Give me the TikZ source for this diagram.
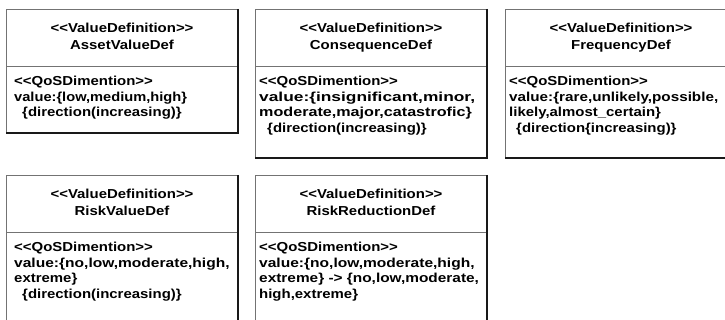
\documentclass[tikz,border=0pt]{standalone}
\usepackage{fontspec}
\usepackage{graphicx}
\newfontfamily\umlsans[FakeStretch=1.15]{Liberation Sans}
\usetikzlibrary{positioning}

% one UML class: a stereotype/name compartment over a value compartment
\newcommand\classbox[4]{% #1 name, #2 left x, #3 top y, #4 body height
  \node[compartment, minimum height=57pt, anchor=north west] (#1-head) at (#2,#3) {};
  \node[compartment, minimum height=#4, anchor=north] (#1-body) at (#1-head.south) {};
  \draw[edgeline] (#1-head.north east) -- (#1-body.south east) -- (#1-body.south west);
}
\newcommand\classtitle[2]{% #1 name, #2 class name
  \node[titletext] (#1-stereo) at ([yshift=-24pt]#1-head.north) {<<ValueDefinition>>};
  \node[titletext] (#1-name) at ([yshift=-41pt]#1-head.north) {#2};
}
\newcommand\bodyline[4]{% #1 name, #2 line number, #3 x offset, #4 text
  \pgfmathsetmacro\lineshift{-20-15.5*(#2-1)}
  \node[bodytext] (#1-l#2) at ([xshift=#3, yshift=\lineshift pt]#1-body.north west) {#4};
}
% widen a line of text horizontally
\newcommand\widen[2]{\scalebox{#1}[1]{#2}}

\begin{document}
\begin{tikzpicture}[x=1pt, y=-1pt,
  compartment/.style={draw=black!55, line width=0.8pt, minimum width=232pt,
    inner sep=0pt, outer sep=0pt},
  edgeline/.style={draw=black!90, line width=1.2pt},
  umlfont/.style={font=\umlsans\bfseries\fontsize{13}{15}\selectfont},
  titletext/.style={umlfont, anchor=base, inner sep=0pt},
  bodytext/.style={umlfont, anchor=base west, inner sep=0pt}]
\useasboundingbox[fill=white] (0,0) rectangle (725,320);

% top row
\classbox{asset}{6}{9}{67pt}
\classtitle{asset}{AssetValueDef}
\bodyline{asset}{1}{8pt}{<<QoSDimention>>}
\bodyline{asset}{2}{8pt}{\widen{0.98}{value:\{low,medium,high\}}}
\bodyline{asset}{3}{16pt}{\{direction(increasing)\}}

\classbox{cons}{255}{9}{92pt}
\classtitle{cons}{ConsequenceDef}
\bodyline{cons}{1}{4pt}{<<QoSDimention>>}
\bodyline{cons}{2}{4pt}{\widen{1.16}{value:\{insignificant,minor,}}
\bodyline{cons}{3}{4pt}{\widen{1.08}{moderate,major,catastrofic\}}}
\bodyline{cons}{4}{12pt}{\{direction(increasing)\}}

\classbox{freq}{505}{9}{92pt}
\classtitle{freq}{FrequencyDef}
\bodyline{freq}{1}{4pt}{<<QoSDimention>>}
\bodyline{freq}{2}{4pt}{\widen{1.02}{value:\{rare,unlikely,possible,}}
\bodyline{freq}{3}{4pt}{likely,almost\_certain\}}
\bodyline{freq}{4}{11pt}{\{direction\{increasing)\}}

% bottom row
\classbox{risk}{6}{175}{100pt}
\classtitle{risk}{RiskValueDef}
\bodyline{risk}{1}{8pt}{<<QoSDimention>>}
\bodyline{risk}{2}{8pt}{\widen{1.04}{value:\{no,low,moderate,high,}}
\bodyline{risk}{3}{8pt}{extreme\}}
\bodyline{risk}{4}{16pt}{\{direction(increasing)\}}

\classbox{reduc}{255}{175}{100pt}
\classtitle{reduc}{RiskReductionDef}
\bodyline{reduc}{1}{4pt}{<<QoSDimention>>}
\bodyline{reduc}{2}{4pt}{\widen{1.04}{value:\{no,low,moderate,high,}}
\bodyline{reduc}{3}{4pt}{\widen{1.03}{extreme\} -> \{no,low,moderate,}}
\bodyline{reduc}{4}{4pt}{high,extreme\}}
\end{tikzpicture}
\end{document}
